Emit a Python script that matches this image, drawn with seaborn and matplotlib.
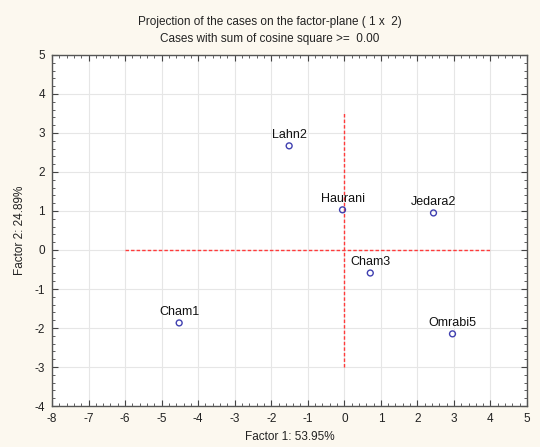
import matplotlib
matplotlib.use("Agg")
import matplotlib.pyplot as plt
import seaborn as sns
import pandas as pd
from matplotlib.ticker import AutoMinorLocator, MultipleLocator

names = ["Lahn2", "Haurani", "Jedara2", "Cham3", "Omrabi5", "Cham1"]
factor1 = [-1.51, -0.05, 2.44, 0.71, 2.96, -4.52]
factor2 = [2.67, 1.03, 0.95, -0.59, -2.15, -1.87]

df = pd.DataFrame({"name": names, "f1": factor1, "f2": factor2})

sns.set_theme(style="white")
plt.rcParams['font.family'] = ['Liberation Sans', 'DejaVu Sans']
plt.rcParams['axes.unicode_minus'] = False

bg = "#fcf8ef"
fig = plt.figure(figsize=(5.4, 4.47), dpi=100, facecolor=bg)
ax = fig.add_axes([0.0963, 0.0917, 0.8797, 0.7853])
ax.set_facecolor("white")

ax.grid(True, color="#e6e6e6", linewidth=0.8, zorder=0)
ax.set_axisbelow(True)

ax.hlines(0, -6, 4, colors="#ff3b3b", linestyles=(0, (2.5, 1.5)), linewidth=1.0, zorder=2)
ax.vlines(0, -3, 3.5, colors="#ff3b3b", linestyles=(0, (2.5, 1.5)), linewidth=1.0, zorder=2)

sns.scatterplot(data=df, x="f1", y="f2", ax=ax, marker="o", s=18,
                facecolor="none", edgecolor="#4040b0", linewidth=1.0, zorder=3)

for n, x, y in zip(names, factor1, factor2):
    ax.text(x, y + 0.12, n, ha="center", va="bottom", fontsize=9, color="#111111", zorder=4)

ax.set_xlim(-8, 5)
ax.set_ylim(-4, 5)
ax.xaxis.set_major_locator(MultipleLocator(1))
ax.yaxis.set_major_locator(MultipleLocator(1))
ax.xaxis.set_minor_locator(AutoMinorLocator(5))
ax.yaxis.set_minor_locator(AutoMinorLocator(5))
ax.tick_params(which="both", direction="in", top=True, right=True, bottom=True, left=True,
               colors="#444444", labelcolor="#222222", labelsize=8.5)
ax.tick_params(which="major", length=4, width=0.8, pad=5)
ax.tick_params(which="minor", length=2, width=0.6)
for s in ax.spines.values():
    s.set_visible(True)
    s.set_color("#555555")
    s.set_linewidth(1.0)

ax.set_xlabel("Factor 1: 53.95%", fontsize=8.5, color="#222222", labelpad=4)
ax.set_ylabel("Factor 2: 24.89%", fontsize=8.5, color="#222222", labelpad=6)

fig.text(0.5, 0.950, "Projection of the cases on the factor-plane ( 1 x  2)",
         ha="center", va="center", fontsize=8.5, color="#222222")
fig.text(0.5, 0.913, "Cases with sum of cosine square >=  0.00",
         ha="center", va="center", fontsize=8.5, color="#222222")

fig.savefig("out.png", dpi=100, facecolor=bg)
